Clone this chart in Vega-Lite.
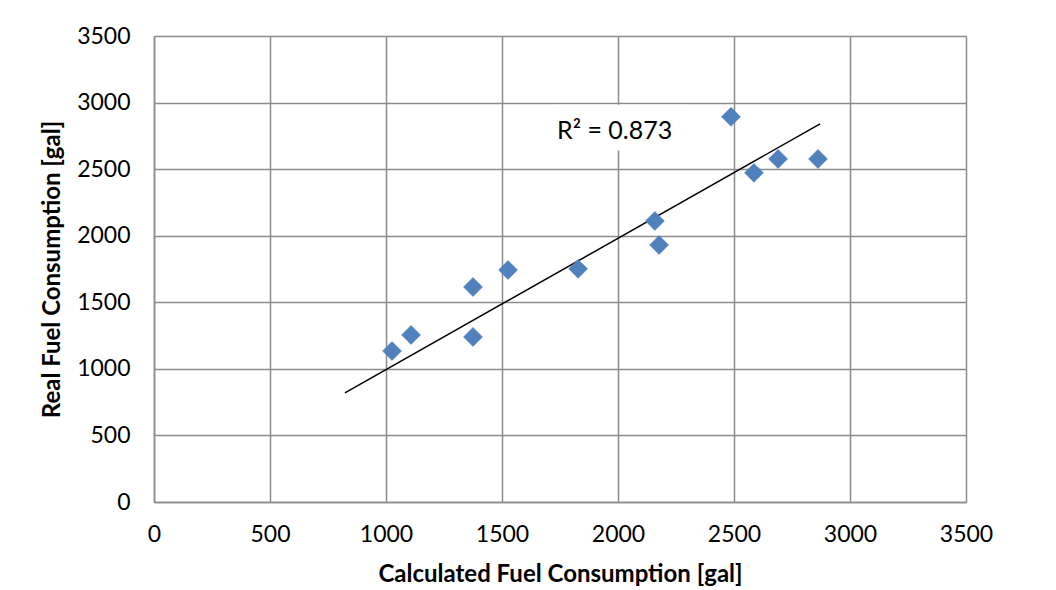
{
  "$schema": "https://vega.github.io/schema/vega-lite/v6.json",
  "width": 812,
  "height": 466,
  "autosize": {"type": "none"},
  "padding": {"left": 154, "top": 36, "right": 90, "bottom": 88},
  "background": "white",
  "config": {
    "font": "Lato",
    "view": {"stroke": null},
    "axis": {
      "gridColor": "#8c8c8c",
      "gridWidth": 1.5,
      "gridOpacity": 1,
      "domainColor": "#8c8c8c",
      "domainWidth": 1.5,
      "ticks": false,
      "labelFlush": false,
      "labelFont": "Lato",
      "labelFontSize": 23,
      "labelColor": "#000000",
      "titleFont": "Lato",
      "titleFontSize": 24,
      "titleFontWeight": "bold",
      "titleColor": "#000000",
      "format": "d"
    }
  },
  "datasets": {
    "points": [
      {"calc": 1026, "real": 1134},
      {"calc": 1108, "real": 1255},
      {"calc": 1375, "real": 1615},
      {"calc": 1375, "real": 1240},
      {"calc": 1526, "real": 1743},
      {"calc": 1828, "real": 1751},
      {"calc": 2159, "real": 2111},
      {"calc": 2177, "real": 1931},
      {"calc": 2487, "real": 2893},
      {"calc": 2586, "real": 2472},
      {"calc": 2690, "real": 2577},
      {"calc": 2862, "real": 2577}
    ],
    "trend": [
      {"calc": 823, "real": 819},
      {"calc": 2871, "real": 2840}
    ],
    "box": [
      {"x1": 1720, "x2": 2300, "y1": 2640, "y2": 2983}
    ],
    "label": [
      {"calc": 1737, "real": 2790, "text": "R² = 0.873"}
    ]
  },
  "layer": [
    {
      "data": {"name": "box"},
      "mark": {"type": "rect", "fill": "white", "stroke": null},
      "encoding": {
        "x": {"field": "x1", "type": "quantitative", "scale": {"domain": [0, 3500]},
          "axis": {"values": [0, 500, 1000, 1500, 2000, 2500, 3000, 3500], "format": "d", "labelFlush": false, "title": "Calculated Fuel Consumption [gal]", "labelPadding": 21, "titlePadding": 16}},
        "x2": {"field": "x2"},
        "y": {"field": "y1", "type": "quantitative", "scale": {"domain": [0, 3500]},
          "axis": {"values": [0, 500, 1000, 1500, 2000, 2500, 3000, 3500], "format": "d", "labelFlush": false, "title": "Real Fuel Consumption [gal]", "labelPadding": 24, "titlePadding": 12}},
        "y2": {"field": "y2"}
      }
    },
    {
      "data": {"name": "trend"},
      "mark": {"type": "line", "color": "black", "strokeWidth": 1.5},
      "encoding": {
        "x": {"field": "calc", "type": "quantitative"},
        "y": {"field": "real", "type": "quantitative"}
      }
    },
    {
      "data": {"name": "points"},
      "mark": {"type": "point", "shape": "diamond", "filled": true, "size": 360, "color": "#4f81bd", "opacity": 1, "stroke": "#4a7ab3", "strokeWidth": 0.5},
      "encoding": {
        "x": {"field": "calc", "type": "quantitative"},
        "y": {"field": "real", "type": "quantitative"}
      }
    },
    {
      "data": {"name": "label"},
      "mark": {"type": "text", "align": "left", "baseline": "middle", "fontSize": 25, "font": "Lato", "color": "black"},
      "encoding": {
        "x": {"field": "calc", "type": "quantitative"},
        "y": {"field": "real", "type": "quantitative"},
        "text": {"field": "text"}
      }
    }
  ]
}
